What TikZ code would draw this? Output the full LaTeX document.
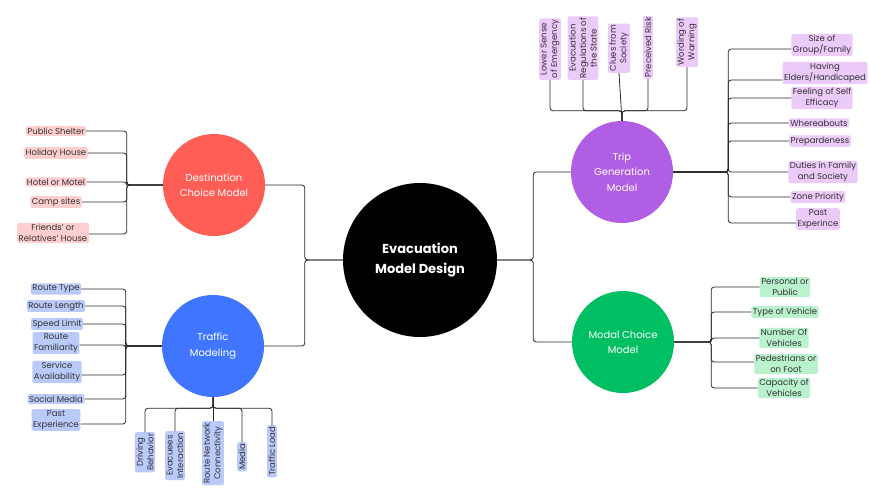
\documentclass[tikz,border=0pt]{standalone}
\usepackage{fontspec}
\setmainfont{Poppins}
\definecolor{dcred}{RGB}{255,94,87}
\definecolor{tmblue}{RGB}{64,118,255}
\definecolor{tgpurple}{RGB}{176,94,227}
\definecolor{mcgreen}{RGB}{0,191,99}
\definecolor{pinkbox}{RGB}{255,207,207}
\definecolor{bluebox}{RGB}{186,202,250}
\definecolor{purplebox}{RGB}{236,202,250}
\definecolor{greenbox}{RGB}{186,242,206}
\definecolor{txt}{RGB}{50,50,50}
\definecolor{linec}{RGB}{40,40,40}
\begin{document}
\begin{tikzpicture}[x=1pt,y=-1pt,
    hub/.style={circle,minimum size=102pt,inner sep=0pt,align=center,text=white,font=\fontsize{10}{15.5}\selectfont},
    leaf/.style={rounded corners=2pt,inner sep=1.5pt,align=center,text=txt,font=\fontsize{8.5}{10.5}\selectfont},
    vleaf/.style={leaf,rotate=90},
    link/.style={line width=0.8pt,rounded corners=3pt,color=linec}]
    \useasboundingbox (0,0) rectangle (870,488);
    % circles
    \node[circle,fill=black,minimum size=154pt,inner sep=0pt,align=center,text=white,font=\bfseries\fontsize{13}{20}\selectfont] (emd) at (420,260) {Evacuation\\Model Design};
    \node[hub,fill=dcred] (dcm) at (214,185) {Destination\\Choice Model};
    \node[hub,fill=tmblue] (tfm) at (213,346) {Traffic\\Modeling};
    \node[hub,fill=tgpurple] (tgm) at (622,172) {Trip\\Generation\\Model};
    \node[hub,fill=mcgreen] (mcm) at (623,342) {Modal Choice\\Model};
    \draw[link] (emd.west) -- ++(-38,0) |- (dcm.east);
    \draw[link] (emd.west) -- ++(-38,0) |- (tfm.east);
    \draw[link] (emd.east) -- ++(36,0) |- (tgm.west);
    \draw[link] (emd.east) -- ++(36,0) |- (mcm.west);
    % destination choice
    \node[leaf,fill=pinkbox] (ps) at (56,131) {Public Shelter};
    \node[leaf,fill=pinkbox] (hh) at (56,153) {Holiday House};
    \node[leaf,fill=pinkbox] (hm) at (56,182) {Hotel or Motel};
    \node[leaf,fill=pinkbox] (cs) at (56,202) {Camp sites};
    \node[leaf,fill=pinkbox] (fr) at (53,233) {Friends' or\\Relatives' House};
    \draw[link] (dcm.west) -- ++(-36,0) |- (ps.east);
    \draw[link] (dcm.west) -- ++(-36,0) |- (hh.east);
    \draw[link] (dcm.west) -- ++(-36,0) |- (hm.east);
    \draw[link] (dcm.west) -- ++(-36,0) |- (cs.east);
    \draw[link] (dcm.west) -- ++(-36,0) |- ([yshift=-1pt]fr.east);
    % traffic modeling
    \node[leaf,fill=bluebox] (rt) at (56,289) {Route Type};
    \node[leaf,fill=bluebox] (rl) at (56,306) {Route Length};
    \node[leaf,fill=bluebox] (sl) at (57,324) {Speed Limit};
    \node[leaf,fill=bluebox] (rf) at (56,343) {Route\\Familiarity};
    \node[leaf,fill=bluebox] (sa) at (57,372) {Service\\Availability};
    \node[leaf,fill=bluebox] (sm) at (56,399) {Social Media};
    \node[leaf,fill=bluebox] (pe) at (56,420) {Past\\Experience};
    \draw[link] (tfm.west) -- ++(-36,0) |- (rt.east);
    \draw[link] (tfm.west) -- ++(-36,0) |- (rl.east);
    \draw[link] (tfm.west) -- ++(-36,0) |- (sl.east);
    \draw[link] (tfm.west) -- ++(-36,0) |- ([yshift=-2pt]rf.east);
    \draw[link] (tfm.west) -- ++(-36,0) |- ([yshift=-3pt]sa.east);
    \draw[link] (tfm.west) -- ++(-36,0) |- (sm.east);
    \draw[link] (tfm.west) -- ++(-36,0) |- ([yshift=-4pt]pe.east);
    \node[vleaf,fill=bluebox,anchor=east] (db) at (145,432) {Driving\\Behavior};
    \node[vleaf,fill=bluebox,anchor=east] (ei) at (175,431) {Evacuees\\Interaction};
    \node[vleaf,fill=bluebox,anchor=east] (rn) at (213,421) {Route Network\\Connectivity};
    \node[vleaf,fill=bluebox,anchor=east] (md) at (242,442) {Media};
    \node[vleaf,fill=bluebox,anchor=east] (tl) at (272,425) {Traffic Load};
    \draw[link] (tfm.south) -- ++(0,11) -| (db.east);
    \draw[link] (tfm.south) -- ++(0,11) -| (ei.east);
    \draw[link] (tfm.south) -- (rn.east);
    \draw[link] (tfm.south) -- ++(0,11) -| (md.east);
    \draw[link] (tfm.south) -- ++(0,11) -| (tl.east);
    % trip generation
    \node[vleaf,fill=purplebox,anchor=west] (ls) at (550,80) {Lower Sense\\of Emergency};
    \node[vleaf,fill=purplebox,anchor=west] (er) at (583,80) {Evacuation\\Regulations of\\the State};
    \node[vleaf,fill=purplebox,anchor=west] (cf) at (619,73) {Clues from\\Society};
    \node[vleaf,fill=purplebox,anchor=west] (pr) at (648,79) {Preceived Risk};
    \node[vleaf,fill=purplebox,anchor=west] (ww) at (687,67) {Wording of\\Warning};
    \draw[link] (tgm.north) -- ++(0,-10) -| (ls.west);
    \draw[link] (tgm.north) -- ++(0,-10) -| (er.west);
    \draw[link] (tgm.north) -- (cf.west);
    \draw[link] (tgm.north) -- ++(0,-10) -| (pr.west);
    \draw[link] (tgm.north) -- ++(0,-10) -| (ww.west);
    \node[leaf,fill=purplebox] (sg) at (822,45) {Size of\\Group/Family};
    \node[leaf,fill=purplebox] (he) at (825,73) {Having\\Elders/Handicaped};
    \node[leaf,fill=purplebox] (fs) at (822,98) {Feeling of Self\\Efficacy};
    \node[leaf,fill=purplebox] (wa) at (819,123) {Whereabouts};
    \node[leaf,fill=purplebox] (pd) at (820,141) {Prepardeness};
    \node[leaf,fill=purplebox] (df) at (823,172) {Duties in Family\\and Society};
    \node[leaf,fill=purplebox] (zp) at (818,197) {Zone Priority};
    \node[leaf,fill=purplebox] (px) at (818,219) {Past\\Experince};
    \draw[link] (tgm.east) -- ++(55,0) |- ([yshift=-4pt]sg.west);
    \draw[link] (tgm.east) -- ++(55,0) |- ([yshift=-7pt]he.west);
    \draw[link] (tgm.east) -- ++(55,0) |- (fs.west);
    \draw[link] (tgm.east) -- ++(55,0) |- (wa.west);
    \draw[link] (tgm.east) -- ++(55,0) |- (pd.west);
    \draw[link] (tgm.east) -- ++(55,0) |- (df.west);
    \draw[link] (tgm.east) -- ++(55,0) |- (zp.west);
    \draw[link] (tgm.east) -- ++(55,0) |- ([yshift=-4pt]px.west);
    % modal choice
    \node[leaf,fill=greenbox] (pp) at (785,287) {Personal or\\Public};
    \node[leaf,fill=greenbox] (tv) at (785,312) {Type of Vehicle};
    \node[leaf,fill=greenbox] (nv) at (784,338) {Number Of\\Vehicles};
    \node[leaf,fill=greenbox] (po) at (786,364) {Pedestrians or\\on Foot};
    \node[leaf,fill=greenbox] (cv) at (784,388) {Capacity of\\Vehicles};
    \draw[link] (mcm.east) -- ++(37,0) |- (pp.west);
    \draw[link] (mcm.east) -- ++(37,0) |- (tv.west);
    \draw[link] (mcm.east) -- ++(37,0) |- (nv.west);
    \draw[link] (mcm.east) -- ++(37,0) |- ([yshift=2pt]po.west);
    \draw[link] (mcm.east) -- ++(37,0) |- (cv.west);
\end{tikzpicture}
\end{document}
